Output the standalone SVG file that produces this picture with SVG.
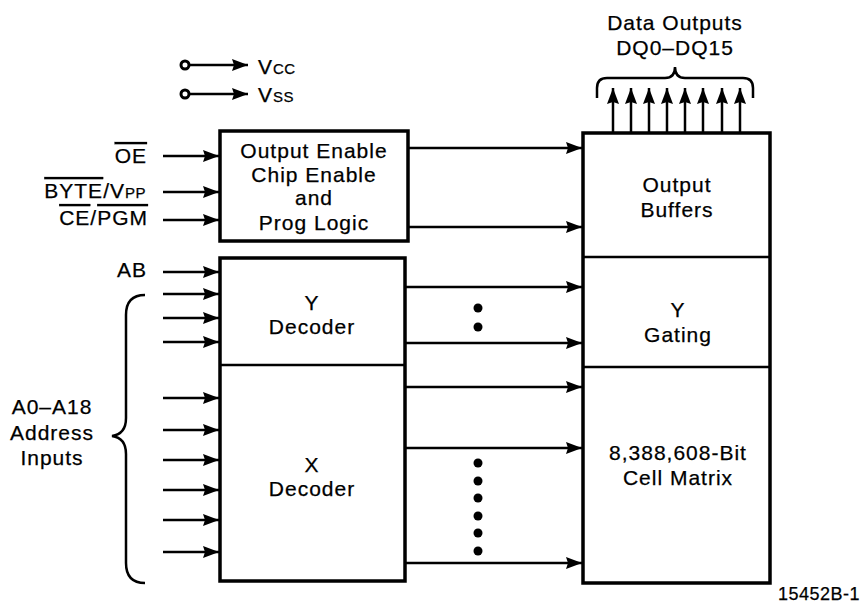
<svg xmlns="http://www.w3.org/2000/svg" width="864" height="606" viewBox="0 0 864 606">
<style>
text{font-family:"Liberation Sans",Arial,sans-serif;font-size:21px;letter-spacing:1px;fill:#000;stroke:#000;stroke-width:0.25}
.c{text-anchor:middle}
.e{text-anchor:end}
.box{fill:#fff;stroke:#000;stroke-width:3.5}
.div{stroke:#000;stroke-width:2.5}
.w{stroke:#000;stroke-width:2.5;fill:none}
.ol{text-decoration:overline}
.sub{font-size:15px;letter-spacing:0.5px}
</style>
<defs>
<marker id="ah" viewBox="0 0 16 12" refX="16" refY="6" markerWidth="16" markerHeight="12" markerUnits="userSpaceOnUse" orient="auto">
<path d="M0,0 L16,6 L0,12 L2,6 z" fill="#000"/>
</marker>
</defs>

<g id="power">
<circle cx="185" cy="65" r="4" fill="#fff" stroke="#000" stroke-width="3"/>
<line x1="189" y1="65" x2="248" y2="65" class="w" marker-end="url(#ah)"/>
<text x="258" y="74">V<tspan class="sub">CC</tspan></text>
<circle cx="185" cy="94" r="4" fill="#fff" stroke="#000" stroke-width="3"/>
<line x1="189" y1="94" x2="248" y2="94" class="w" marker-end="url(#ah)"/>
<text x="258" y="102">V<tspan class="sub">SS</tspan></text>
</g>

<g id="control">
<rect x="220" y="131" width="188" height="110" class="box"/>
<text x="314" y="158" class="c">Output Enable</text>
<text x="314" y="182" class="c">Chip Enable</text>
<text x="314" y="205" class="c">and</text>
<text x="314" y="230" class="c">Prog Logic</text>
</g>

<g id="decoder">
<rect x="220" y="258" width="185" height="323" class="box"/>
<line x1="220" y1="365" x2="405" y2="365" class="div"/>
<text x="312" y="310" class="c">Y</text>
<text x="312" y="334" class="c">Decoder</text>
<text x="312" y="472" class="c">X</text>
<text x="312" y="496" class="c">Decoder</text>
</g>

<g id="memory">
<rect x="583" y="133" width="187" height="450" class="box"/>
<line x1="583" y1="257" x2="770" y2="257" class="div"/>
<line x1="583" y1="367" x2="770" y2="367" class="div"/>
<text x="677" y="192" class="c">Output</text>
<text x="677" y="217" class="c">Buffers</text>
<text x="678" y="317" class="c">Y</text>
<text x="678" y="342" class="c">Gating</text>
<text x="678" y="460" class="c">8,388,608-Bit</text>
<text x="678" y="485" class="c">Cell Matrix</text>
</g>

<g id="labels">
<text x="675" y="30" class="c">Data Outputs</text>
<text x="675" y="55" class="c">DQ0–DQ15</text>
<text x="147" y="163" class="e"><tspan class="ol">OE</tspan></text>
<text x="146" y="198" class="e"><tspan class="ol">BYTE</tspan>/V<tspan class="sub">PP</tspan></text>
<text x="148" y="225" class="e"><tspan class="ol">CE</tspan>/<tspan class="ol">PGM</tspan></text>
<text x="147" y="277" class="e">AB</text>
<text x="52" y="414" class="c">A0–A18</text>
<text x="52" y="440" class="c">Address</text>
<text x="52" y="465" class="c">Inputs</text>
<text x="860" y="600" class="e" style="font-size:18px;letter-spacing:0.5px">15452B-1</text>
</g>

<g id="connectors">
<line x1="163" y1="156" x2="219" y2="156" class="w" marker-end="url(#ah)"/>
<line x1="163" y1="192" x2="219" y2="192" class="w" marker-end="url(#ah)"/>
<line x1="163" y1="220" x2="219" y2="220" class="w" marker-end="url(#ah)"/>
<line x1="163" y1="272" x2="219" y2="272" class="w" marker-end="url(#ah)"/>
<line x1="163" y1="294" x2="219" y2="294" class="w" marker-end="url(#ah)"/>
<line x1="163" y1="318" x2="219" y2="318" class="w" marker-end="url(#ah)"/>
<line x1="163" y1="342" x2="219" y2="342" class="w" marker-end="url(#ah)"/>
<line x1="163" y1="398" x2="219" y2="398" class="w" marker-end="url(#ah)"/>
<line x1="163" y1="430" x2="219" y2="430" class="w" marker-end="url(#ah)"/>
<line x1="163" y1="460" x2="219" y2="460" class="w" marker-end="url(#ah)"/>
<line x1="163" y1="490" x2="219" y2="490" class="w" marker-end="url(#ah)"/>
<line x1="163" y1="520" x2="219" y2="520" class="w" marker-end="url(#ah)"/>
<line x1="163" y1="552" x2="219" y2="552" class="w" marker-end="url(#ah)"/>

<line x1="408" y1="148" x2="582" y2="148" class="w" marker-end="url(#ah)"/>
<line x1="408" y1="227" x2="582" y2="227" class="w" marker-end="url(#ah)"/>
<line x1="405" y1="287" x2="582" y2="287" class="w" marker-end="url(#ah)"/>
<line x1="405" y1="343" x2="582" y2="343" class="w" marker-end="url(#ah)"/>
<line x1="405" y1="387" x2="582" y2="387" class="w" marker-end="url(#ah)"/>
<line x1="405" y1="448" x2="582" y2="448" class="w" marker-end="url(#ah)"/>
<line x1="405" y1="563" x2="582" y2="563" class="w" marker-end="url(#ah)"/>

<line x1="613" y1="133" x2="613" y2="88" class="w" marker-end="url(#ah)"/>
<line x1="631" y1="133" x2="631" y2="88" class="w" marker-end="url(#ah)"/>
<line x1="649" y1="133" x2="649" y2="88" class="w" marker-end="url(#ah)"/>
<line x1="667" y1="133" x2="667" y2="88" class="w" marker-end="url(#ah)"/>
<line x1="685" y1="133" x2="685" y2="88" class="w" marker-end="url(#ah)"/>
<line x1="703" y1="133" x2="703" y2="88" class="w" marker-end="url(#ah)"/>
<line x1="722" y1="133" x2="722" y2="88" class="w" marker-end="url(#ah)"/>
<line x1="740" y1="133" x2="740" y2="88" class="w" marker-end="url(#ah)"/>

<path d="M597,98 L597,88 Q597,78 607,78 L665,78 Q675,78 675,67 Q675,78 685,78 L743,78 Q753,78 753,88 L753,98" class="w"/>
<path d="M145,295 Q126,295 126,315 L126,418 Q126,434 112,436 Q126,438 126,454 L126,563 Q126,583 145,583" class="w"/>

<g fill="#000">
<circle cx="478" cy="308" r="4.5"/>
<circle cx="478" cy="327" r="4.5"/>
<circle cx="478" cy="463" r="4.5"/>
<circle cx="478" cy="481" r="4.5"/>
<circle cx="478" cy="498" r="4.5"/>
<circle cx="478" cy="516" r="4.5"/>
<circle cx="478" cy="533" r="4.5"/>
<circle cx="478" cy="551" r="4.5"/>
</g>
</g>
</svg>
